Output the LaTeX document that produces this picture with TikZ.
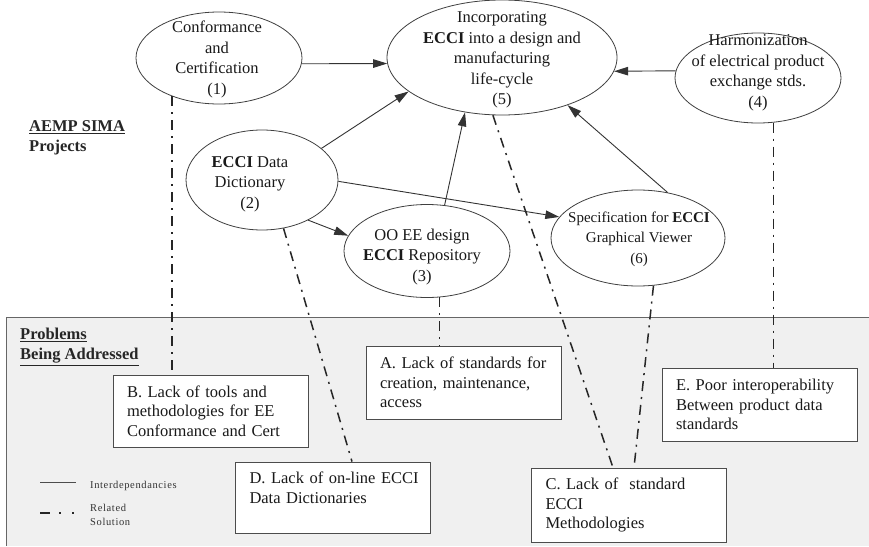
\documentclass[tikz,border=0pt]{standalone}
\usepackage{fontspec}
\setmainfont{Liberation Serif}
\usetikzlibrary{arrows.meta,shapes.geometric}
\begin{document}
\begin{tikzpicture}[x=1pt,y=-1pt,
  proj/.style={ellipse, draw=black!75, line width=0.8pt, inner sep=0pt},
  ptext/.style={align=center, font=\fontsize{16.5}{20.5}\selectfont, text=black!90, inner sep=0pt},
  prob/.style={draw=black!70, line width=0.8pt, fill=white, align=left, text width=167pt, inner xsep=14pt, inner ysep=0pt, minimum width=195pt, font=\fontsize{16.5}{19.5}\selectfont, text=black!90},
  dep/.style={draw=black!80, line width=0.9pt, -{Triangle[length=14pt,width=8.5pt]}},
  rel/.style={draw=black!85, line width=1.5pt, dash pattern=on 10pt off 6pt on 2pt off 6pt},
  heading/.style={font=\fontsize{16.5}{20}\selectfont\bfseries, align=left, anchor=west, inner sep=0pt, text=black!85},
  legend/.style={font=\fontsize{10.5}{14}\selectfont\addfontfeatures{LetterSpace=6}, align=left, inner sep=0pt, text=black!80},
]
\path[use as bounding box] (0,0) rectangle (869,546);
\fill[white] (0,0) rectangle (869,546);
% problems panel
\fill[black!6] (6,317) rectangle (869,546);
\draw[black!60, line width=0.8pt] (869,317) -- (6,317) -- (6,546);

% headings
\node[heading] (hproj) at (29,138) {\underline{AEMP SIMA}\\Projects};
\node[heading] (hprob) at (20,347) {\underline{Problems}\\\underline{Being Addressed}};

% project ellipses
\node[proj, minimum width=166pt, minimum height=92pt] (e1) at (219,58) {};
\node[proj, minimum width=230pt, minimum height=115pt] (e5) at (502,57.5) {};
\node[proj, minimum width=166pt, minimum height=90pt] (e4) at (758,78) {};
\node[proj, minimum width=152pt, minimum height=100pt] (e2) at (262,180) {};
\node[proj, minimum width=166pt, minimum height=93pt] (e3) at (427,251) {};
\node[proj, minimum width=174pt, minimum height=96pt] (e6) at (638,238) {};

\node[ptext] (t1) at (217,59.5) {Conformance\\and\\Certification\\(1)};
\node[ptext] (t5) at (502,60) {Incorporating\\\textbf{ECCI} into a design and\\manufacturing\\life-cycle\\(5)};
\node[ptext] (t4) at (758,73) {Harmonization\\of electrical product\\exchange stds.\\(4)};
\node[ptext] (t2) at (250,184) {\textbf{ECCI} Data\\Dictionary\\(2)};
\node[ptext] (t3) at (422,257) {OO EE design\\\textbf{ECCI} Repository\\(3)};
\node[ptext, font=\fontsize{15}{20.5}\selectfont] (t6) at (639,239) {Specification for \textbf{ECCI}\\Graphical Viewer\\(6)};

% interdependencies
\draw[dep] (e1.-4.9) -- (e5.183.8);
\draw[dep] (e4.175.8) -- (e5.-7.4);
\draw[dep] (e2.28.8) -- (e5.200);
\draw[dep] (e2.-41.6) -- (e3.169.7);
\draw[dep] (e2.-1.5) -- (e6.165.3);
\draw[dep] (e3.69.3) -- (e5.236.6);
\draw[dep] (e6.57) -- (e5.-36.1);

% problem boxes
\node[prob, minimum height=73pt] (a) at (463.5,382.5) {\mbox{A. Lack of standards for}\\\mbox{creation, maintenance,}\\access};
\node[prob, minimum height=72pt] (b) at (210.5,411) {\mbox{B. Lack of tools and}\\\mbox{methodologies for EE}\\\mbox{Conformance and Cert}};
\node[prob, minimum height=71pt] (d) at (333,497.5) {\mbox{D. Lack of on-line ECCI}\\\mbox{Data Dictionaries}\\\mbox{}};
\node[prob, minimum height=74pt] (c) at (629,505) {\mbox{C. Lack of~ standard}\\ECCI\\Methodologies};
\node[prob, minimum height=73pt] (e) at (759.5,404.5) {\mbox{E. Poor interoperability}\\\mbox{Between product data}\\standards};

% related solutions
\draw[rel] (e1.-141.1) -- (e1.-141.1 |- b.north);
\draw[rel] (e2.-66.4) -- ([xshift=19pt]d.north);
\draw[rel] (e5.-99.9) -- ([xshift=-16pt]c.north);
\draw[rel] (e3.-75.2) -- (e3.-75.2 |- a.north);
\draw[rel] (e6.-72) -- ([xshift=5pt]c.north);
\draw[rel] (e4.-71.3) -- (e4.-71.3 |- e.north);

% legend
\coordinate (la) at (40,482);
\coordinate (lb) at (76,482);
\draw[black!70, line width=0.6pt] (la) -- (lb);
\node[legend, anchor=west] (lg1) at (90,486) {Interdependancies};
\coordinate (lc) at (40,513);
\coordinate (ld) at (76,513);
\draw[black!85, line width=1.8pt, dash pattern=on 10pt off 9pt on 2pt off 11pt on 2pt off 20pt] (lc) -- (ld);
\node[legend, anchor=west] (lg2) at (90,515) {Related\\Solution};
\end{tikzpicture}
\end{document}
